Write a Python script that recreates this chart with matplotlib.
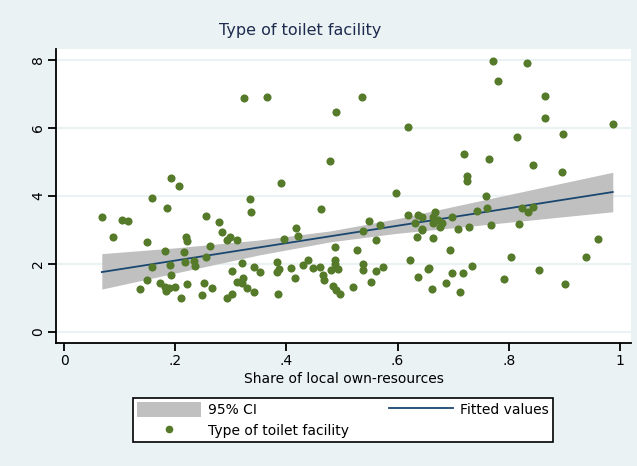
import matplotlib
matplotlib.use('Agg')
import matplotlib.pyplot as plt
from matplotlib.patches import Patch
from matplotlib.lines import Line2D

# scatter: share of local own-resources vs type of toilet facility
share_local = [
    0.192, 0.207, 0.158, 0.324, 0.365, 0.536, 0.489, 0.619, 0.478, 0.391,
    0.335, 0.598, 0.772, 0.833, 0.781, 0.865, 0.866, 0.987, 0.898, 0.814,
    0.719, 0.764, 0.844, 0.895, 0.724, 0.724, 0.759,
    0.068, 0.185, 0.105, 0.115, 0.088, 0.149, 0.255, 0.279, 0.284, 0.220,
    0.222, 0.299, 0.311, 0.294, 0.263, 0.216, 0.182, 0.255, 0.218, 0.234,
    0.236, 0.191, 0.158, 0.192, 0.149, 0.137, 0.173, 0.182, 0.188, 0.200,
    0.183, 0.221, 0.210, 0.251, 0.249, 0.267, 0.293, 0.303, 0.303, 0.311,
    0.336, 0.462, 0.396, 0.417, 0.421, 0.619, 0.636, 0.631, 0.643, 0.634,
    0.549, 0.568, 0.538, 0.561, 0.487, 0.527, 0.622, 0.655, 0.637, 0.321,
    0.342, 0.353, 0.322, 0.320, 0.329, 0.342, 0.383, 0.387, 0.383, 0.385,
    0.409, 0.415, 0.429, 0.439, 0.448, 0.460, 0.466, 0.468, 0.487, 0.487,
    0.481, 0.493, 0.484, 0.490, 0.496, 0.519, 0.538, 0.537, 0.553, 0.562,
    0.574,
    0.667, 0.663, 0.673, 0.664, 0.679, 0.676, 0.697, 0.643, 0.643, 0.664,
    0.708, 0.728, 0.742, 0.760, 0.768, 0.819, 0.823, 0.835, 0.844, 0.694,
    0.804, 0.960, 0.938, 0.657, 0.697, 0.717, 0.734, 0.687, 0.661, 0.712,
    0.792, 0.854, 0.901,
]
toilet_type = [
    4.53, 4.29, 3.93, 6.87, 6.89, 6.91, 6.47, 6.01, 5.02, 4.37,
    3.90, 4.07, 7.96, 7.89, 7.36, 6.94, 6.29, 6.10, 5.80, 5.73,
    5.23, 5.08, 4.91, 4.71, 4.58, 4.42, 3.99,
    3.39, 3.65, 3.28, 3.25, 2.80, 2.63, 3.41, 3.22, 2.95, 2.80,
    2.68, 2.80, 2.70, 2.70, 2.52, 2.36, 2.39, 2.21, 2.06, 2.09,
    1.94, 1.97, 1.90, 1.67, 1.53, 1.26, 1.43, 1.33, 1.28, 1.33,
    1.21, 1.41, 1.01, 1.45, 1.09, 1.30, 0.99, 1.12, 1.80, 1.48,
    3.53, 3.60, 2.73, 3.04, 2.83, 3.43, 3.43, 3.19, 2.99, 2.80,
    3.27, 3.14, 2.97, 2.70, 2.49, 2.41, 2.11, 1.85, 1.62, 2.02,
    1.90, 1.77, 1.58, 1.43, 1.28, 1.18, 2.06, 1.85, 1.77, 1.13,
    1.87, 1.58, 1.97, 2.11, 1.87, 1.90, 1.67, 1.53, 2.11, 2.00,
    1.82, 1.84, 1.35, 1.23, 1.11, 1.31, 2.00, 1.82, 1.48, 1.80,
    1.90,
    3.53, 3.39, 3.29, 3.19, 3.19, 3.09, 3.39, 3.39, 3.01, 2.77,
    3.01, 3.07, 3.56, 3.63, 3.14, 3.17, 3.63, 3.53, 3.68, 2.41,
    2.21, 2.73, 2.19, 1.87, 1.72, 1.72, 1.94, 1.43, 1.26, 1.18,
    1.55, 1.82, 1.40,
]

# fitted line and 95% confidence band
fit_x = [0.068, 0.987]
fit_y = [1.76, 4.11]
ci_x = [0.068, 0.2, 0.35, 0.48, 0.6, 0.75, 0.987]
ci_lo = [1.26, 1.73, 2.26, 2.65, 2.90, 3.14, 3.53]
ci_hi = [2.30, 2.47, 2.70, 2.97, 3.33, 3.86, 4.69]

x_ticks = [0, 0.2, 0.4, 0.6, 0.8, 1]
x_tick_labels = ['0', '.2', '.4', '.6', '.8', '1']
y_ticks = [0, 2, 4, 6, 8]

bg = '#eaf2f3'
green = '#557a2a'
navy = '#1a476f'
gray = '#c0c0c0'

plt.rcParams['font.family'] = ['DejaVu Sans']

fig = plt.figure(figsize=(6.37, 4.66), dpi=100, facecolor=bg)
ax = fig.add_axes([56 / 637, 1 - 343 / 466, 575 / 637, 294 / 466])
ax.set_facecolor('white')

for yt in y_ticks:
    ax.axhline(yt, color=bg, lw=1.6, zorder=0)

ax.fill_between(ci_x, ci_lo, ci_hi, color=gray, lw=0, zorder=1)
ax.plot(fit_x, fit_y, color=navy, lw=1.3, zorder=2)
ax.scatter(share_local, toilet_type, s=34, color=green, marker='o',
           linewidths=0, zorder=3)

ax.set_xlim(-0.0144, 1.0198)
ax.set_ylim(-0.323, 8.309)
ax.set_xticks(x_ticks)
ax.set_xticklabels(x_tick_labels)
ax.set_yticks(y_ticks)
ax.set_yticklabels([str(v) for v in y_ticks], rotation=90, va='center')
ax.tick_params(axis='both', length=6, width=1.3, labelsize=10, pad=2)
for side in ['top', 'right']:
    ax.spines[side].set_visible(False)
for side in ['left', 'bottom']:
    ax.spines[side].set_linewidth(1.3)
ax.set_xlabel('Share of local own-resources', fontsize=10, labelpad=3)

fig.text(300 / 637, 1 - 30 / 466, 'Type of toilet facility', ha='center',
         va='center', fontsize=11.5, color='#1e2b4f')

handles = [
    Patch(facecolor=gray, edgecolor='none'),
    Line2D([], [], ls='none', marker='o', color=green, markersize=4.5),
    Line2D([], [], color=navy, lw=1.3),
]
labels = ['95% CI', 'Type of toilet facility', 'Fitted values']
leg = fig.legend(handles, labels, ncol=2, loc='center',
                 bbox_to_anchor=(343 / 637, 1 - 420 / 466),
                 frameon=True, fancybox=False, edgecolor='black',
                 facecolor='white', framealpha=1, fontsize=10,
                 handlelength=4.6, handleheight=1.2, handletextpad=0.5,
                 columnspacing=2.9, labelspacing=0.4, borderpad=0.3,
                 borderaxespad=0)
leg.get_frame().set_linewidth(1.2)

plt.savefig('out.png', dpi=100, facecolor=bg)
plt.close()
